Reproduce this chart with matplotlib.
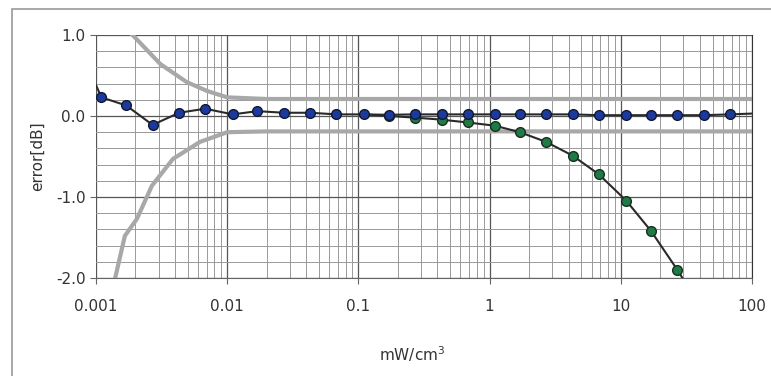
import matplotlib
matplotlib.use("Agg")
import matplotlib.pyplot as plt
from matplotlib.patches import Rectangle
from matplotlib.ticker import LogLocator, MultipleLocator, FixedLocator

# measured points (power density, mW/cm3)
x_pts = [0.0011, 0.0017, 0.0027, 0.0043, 0.0068, 0.011, 0.017, 0.027, 0.043, 0.068,
         0.11, 0.17, 0.27, 0.43, 0.68, 1.1, 1.7, 2.7, 4.3, 6.8, 11, 17, 27, 43, 68]
blue_err = [0.23, 0.13, -0.11, 0.04, 0.09, 0.02, 0.06, 0.04, 0.04, 0.02,
            0.02, 0.015, 0.02, 0.02, 0.02, 0.02, 0.02, 0.02, 0.02, 0.01,
            0.01, 0.01, 0.01, 0.01, 0.02]

x_green = [0.17, 0.27, 0.43, 0.68, 1.1, 1.7, 2.7, 4.3, 6.8, 11, 17, 27]
green_err = [0.0, -0.02, -0.045, -0.08, -0.12, -0.2, -0.32, -0.49, -0.72, -1.045, -1.42, -1.90]

# fitted curves
x_fit1 = [0.001] + x_pts + [100]
y_fit1 = [0.38] + blue_err + [0.03]
x_fit2 = [0.11] + x_green + [29.5]
y_fit2 = [0.02] + green_err + [-2.0]

# tolerance limits
x_up = [0.0019, 0.0031, 0.0049, 0.0070, 0.010, 0.02, 100]
y_up = [1.0, 0.64, 0.42, 0.31, 0.23, 0.21, 0.21]
x_lo = [0.0014, 0.00166, 0.00205, 0.00267, 0.00386, 0.0062, 0.010, 0.02, 100]
y_lo = [-2.0, -1.48, -1.27, -0.86, -0.53, -0.32, -0.2, -0.19, -0.19]

fig = plt.figure(figsize=(7.71, 3.76), dpi=100)
fig.patches.append(Rectangle((12/771, -0.1), 1.0, 1.076, transform=fig.transFigure,
                             fill=False, edgecolor='#999999', lw=1.2))

ax = fig.add_axes([96/771, 1-278/376, 656/771, 243/376])
ax.set_xscale('log')
ax.set_xlim(0.001, 100)
ax.set_ylim(-2.0, 1.0)

ax.xaxis.set_major_locator(LogLocator(base=10))
ax.xaxis.set_minor_locator(LogLocator(base=10, subs=range(2, 10)))
ax.yaxis.set_major_locator(FixedLocator([-2.0, -1.0, 0.0, 1.0]))
ax.yaxis.set_minor_locator(MultipleLocator(0.2))
ax.set_xticks([0.001, 0.01, 0.1, 1, 10, 100])
ax.set_xticklabels(['0.001', '0.01', '0.1', '1', '10', '100'])
ax.set_yticklabels(['-2.0', '-1.0', '0.0', '1.0'])

ax.grid(which='major', color='#555555', lw=0.9)
ax.grid(which='minor', color='#999999', lw=0.7)
ax.set_axisbelow(True)
for s in ['top', 'left']:
    ax.spines[s].set_visible(False)
ax.spines['right'].set_color('#333333')
ax.spines['bottom'].set_color('#666666')
ax.tick_params(which='minor', length=0)
ax.tick_params(which='major', length=4, color='#666666', labelsize=11, labelcolor='#333333')
ax.tick_params(axis='x', pad=11)

ax.plot(x_up, y_up, color='#a8a8a8', lw=3, zorder=2)
ax.plot(x_lo, y_lo, color='#a8a8a8', lw=3, zorder=2)
ax.plot(x_fit2, y_fit2, color='#2a2a2a', lw=1.5, zorder=3, clip_on=True)
ax.plot(x_fit1, y_fit1, color='#2a2a2a', lw=1.5, zorder=3)
ax.plot(x_green, green_err, 'o', color='#1f7a45', mec='#183020', ms=7, zorder=4)
ax.plot(x_pts, blue_err, 'o', color='#1c3a9e', mec='#101830', ms=7, zorder=5)

ax.set_xlabel('mW/cm$^3$', fontsize=11, color='#333333', labelpad=22)
ax.xaxis.label.set_x(0.482)
ax.set_ylabel('error[dB]', fontsize=11, color='#333333', labelpad=8)

fig.savefig('out.png', dpi=100)
